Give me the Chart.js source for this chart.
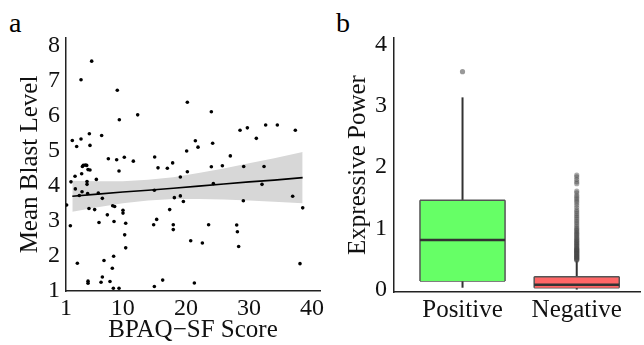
<!DOCTYPE html>
<html><head><meta charset="utf-8">
<script src="https://cdn.jsdelivr.net/npm/chart.js@4"></script>
<style>
body{margin:0;background:#fff;width:644px;height:345px;position:relative;overflow:hidden;}
#ca{position:absolute;left:0;top:0}
#cb{position:absolute;left:330px;top:0}
.lab{position:absolute;font:28px 'Liberation Serif';color:#000;line-height:1}
</style></head><body>
<div class="lab" style="left:9px;top:9px">a</div>
<div class="lab" style="left:336px;top:9px">b</div>
<canvas id="ca" width="330" height="345"></canvas>
<canvas id="cb" width="314" height="345"></canvas>
<script>
// ---------- Panel a data ----------
const bpaqScore = [5.07,3.38,9.13,9.45,12.36,20.23,24.03,2.0,3.38,4.70,6.65,2.69,4.80,21.5,21.92,24.24,28.58,29.74,32.64,31.16,34.49,37.34,20.12,
 7.71,9.03,10.24,11.67,3.74,4.06,4.28,3.6,4.49,4.80,3.48,2.43,1.79,4.33,4.33,5.81,9.40,15.05,15.58,17.06,17.9,19.12,20.23,24.03,25.78,27.04,24.35,29.16,32.38,32.06,
 2.48,3.54,3.11,4.43,6.12,6.76,1.1,4.64,5.54,8.40,8.71,7.55,10.03,10.03,15.0,18.17,19.12,19.6,17.43,15.37,29.1,36.92,38.51,
 1.69,6.23,8.61,10.46,10.30,10.46,14.89,18.0,18.0,20.76,22.61,23.6,28.05,28.16,28.36,
 2.80,7.02,8.55,8.34,4.49,4.49,6.76,6.55,7.97,8.50,9.40,38.08,16.32,15.0,21.34];
const blastLevel = [7.55,7.02,6.72,5.88,6.02,6.38,6.11,5.29,5.33,5.48,5.43,5.12,5.15,5.28,5.10,5.21,5.58,5.65,5.73,5.35,5.73,5.58,4.99,
 4.77,4.74,4.81,4.70,4.58,4.59,4.58,4.55,4.46,4.45,4.34,4.27,4.11,4.12,4.04,4.18,4.42,4.82,4.51,4.50,4.65,4.25,4.40,4.54,4.57,4.85,4.06,4.55,4.55,4.04,
 3.91,3.83,3.72,3.78,3.79,3.64,3.45,3.35,3.32,3.43,3.41,3.17,3.30,3.22,3.87,3.66,3.71,3.55,3.32,3.04,3.57,3.70,3.37,
 2.86,2.95,2.98,2.93,2.60,2.23,2.89,2.89,2.75,2.43,2.37,2.89,2.88,2.69,2.27,
 1.79,1.87,1.99,1.65,1.28,1.22,1.40,1.25,1.27,1.08,1.08,1.78,1.31,1.13,1.23];
const fitX     = [2, 6, 10, 14, 18, 22, 26, 30, 34, 38.5];
const fitLine  = [3.70,3.76,3.82,3.87,3.93,3.99,4.05,4.11,4.16,4.23];
const fitLower = [3.26,3.39,3.50,3.58,3.62,3.62,3.61,3.58,3.54,3.50];
const fitUpper = [4.14,4.13,4.13,4.17,4.24,4.36,4.49,4.64,4.78,4.96];
const xTicksA = [1,10,20,30,40];
const yTicksA = [1,2,3,4,5,6,7,8];

// ---------- Panel b data ----------
const groups = ['Positive','Negative'];
const boxQ1     = [0.14, 0.03];
const boxMedian = [0.81, 0.08];
const boxQ3     = [1.46, 0.21];
const whiskLow  = [0.03, 0.00];
const whiskHigh = [3.14, 0.47];
const outliersPositive = [3.56];
const outliersNegative = [0.48,0.49,0.50,0.51,0.52,0.53,0.54,0.55,0.56,0.57,0.58,0.59,0.60,0.61,0.62,0.63,0.64,0.65,0.66,0.67,0.68,0.70,0.71,0.73,0.74,0.76,0.77,0.79,0.80,0.82,0.84,0.86,0.88,0.90,0.92,0.94,0.96,0.98,1.00,1.03,1.06,1.09,1.12,1.15,1.18,1.21,1.24,1.27,1.30,1.34,1.38,1.42,1.45,1.48,1.51,1.54,1.58,1.61,1.73,1.76,1.80,1.84,1.87];
const yTicksB = [0,1,2,3,4];
const boxColors = ['#66ff66','#ff6666'];

const serif = "'Liberation Serif'";
const tickFont = {family: serif, size: 24};
const titleFont = {family: serif, size: 25};
const axisBorder = {display: true, color: '#222', width: 1.5};

// ---- Chart a ----
new Chart(document.getElementById('ca'), {
  type: 'scatter',
  data: {
    datasets: [
      {type:'line', data: fitX.map((x,i)=>({x, y: fitUpper[i]})), borderWidth:0, pointRadius:0, backgroundColor:'#d7d7d7', fill:'+1', order:3},
      {type:'line', data: fitX.map((x,i)=>({x, y: fitLower[i]})), borderWidth:0, pointRadius:0, fill:false, order:3},
      {type:'line', data: fitX.map((x,i)=>({x, y: fitLine[i]})), borderColor:'#000', borderWidth:1.6, pointRadius:0, fill:false, order:1},
      {data: bpaqScore.map((x,i)=>({x, y: blastLevel[i]})), backgroundColor:'#000', borderWidth:0, pointRadius:1.8, order:0}
    ]
  },
  options: {
    responsive:false, animation:false, events:[],
    layout:{padding:{top:38, right:10, left:0, bottom:0}},
    plugins:{legend:{display:false}, tooltip:{enabled:false}},
    scales:{
      x:{type:'linear', min:1, max:41.25,
         afterBuildTicks: s => { s.ticks = xTicksA.map(v=>({value:v})); },
         afterFit: s => { s.height = 54; },
         grid:{display:false, drawTicks:false}, border:axisBorder,
         ticks:{font:tickFont, color:'#111', padding:3, maxRotation:0, autoSkip:false},
         title:{display:true, text:'BPAQ\u2212SF Score', font:titleFont, color:'#111', padding:{top:0,bottom:0}}},
      y:{type:'linear', min:1, max:8.21,
         afterBuildTicks: s => { s.ticks = yTicksA.map(v=>({value:v})); },
         afterFit: s => { s.width = 66; },
         grid:{display:false, drawTicks:false}, border:axisBorder,
         ticks:{font:tickFont, color:'#111', padding:6, autoSkip:false},
         title:{display:true, text:'Mean Blast Level', font:titleFont, color:'#111', padding:{top:15,bottom:0}}}
    }
  }
});

// ---- Chart b ----
const halfW = 0.3725;
const dsB = [];
groups.forEach((g,i)=>{
  const c = i+1;
  dsB.push({type:'line', data:[{x:c,y:boxQ3[i]},{x:c,y:whiskHigh[i]}], borderColor:'#333', borderWidth:2, pointRadius:0, order:5});
  dsB.push({type:'line', data:[{x:c,y:whiskLow[i]},{x:c,y:boxQ1[i]}], borderColor:'#333', borderWidth:2, pointRadius:0, order:5});
  dsB.push({type:'line', data:[{x:c-halfW,y:boxQ3[i]},{x:c+halfW,y:boxQ3[i]}], borderColor:'#555', borderWidth:1.5, pointRadius:0, backgroundColor:boxColors[i], fill:'+1', order:4});
  dsB.push({type:'line', data:[{x:c-halfW,y:boxQ1[i]},{x:c+halfW,y:boxQ1[i]}], borderColor:'#555', borderWidth:1.5, pointRadius:0, fill:false, order:4});
  dsB.push({type:'line', data:[{x:c-halfW,y:boxQ1[i]},{x:c-halfW,y:boxQ3[i]}], borderColor:'#555', borderWidth:1.5, pointRadius:0, fill:false, order:3});
  dsB.push({type:'line', data:[{x:c+halfW,y:boxQ1[i]},{x:c+halfW,y:boxQ3[i]}], borderColor:'#555', borderWidth:1.5, pointRadius:0, fill:false, order:3});
  dsB.push({type:'line', data:[{x:c-halfW,y:boxMedian[i]},{x:c+halfW,y:boxMedian[i]}], borderColor:'#333', borderWidth:2.5, pointRadius:0, fill:false, order:2});
});
dsB.push({data: outliersPositive.map(v=>({x:1,y:v})), backgroundColor:'rgba(70,70,70,0.55)', borderWidth:0, pointRadius:2.6, order:1});
dsB.push({data: outliersNegative.map(v=>({x:2,y:v})), backgroundColor:'rgba(70,70,70,0.45)', borderWidth:0, pointRadius:2.6, order:1});

new Chart(document.getElementById('cb'), {
  type:'scatter',
  data:{datasets: dsB},
  options:{
    responsive:false, animation:false, events:[],
    layout:{padding:{top:38, right:0, left:0, bottom:0}},
    plugins:{legend:{display:false}, tooltip:{enabled:false}},
    scales:{
      x:{type:'linear', min:0.4, max:2.554,
         afterBuildTicks: s => { s.ticks = groups.map((g,i)=>({value:i+1})); },
         afterFit: s => { s.height = 53; },
         grid:{display:false, drawTicks:false}, border:axisBorder,
         ticks:{font:titleFont, color:'#111', padding:3, maxRotation:0, autoSkip:false, callback:(v)=>groups[Math.round(v)-1]}},
      y:{type:'linear', min:-0.04, max:4.11,
         afterBuildTicks: s => { s.ticks = yTicksB.map(v=>({value:v})); },
         afterFit: s => { s.width = 64; },
         grid:{display:false, drawTicks:false}, border:axisBorder,
         ticks:{font:tickFont, color:'#111', padding:7, autoSkip:false},
         title:{display:true, text:'Expressive Power', font:titleFont, color:'#111', padding:{top:13,bottom:0}}}
    }
  }
});
</script>
</body></html>
